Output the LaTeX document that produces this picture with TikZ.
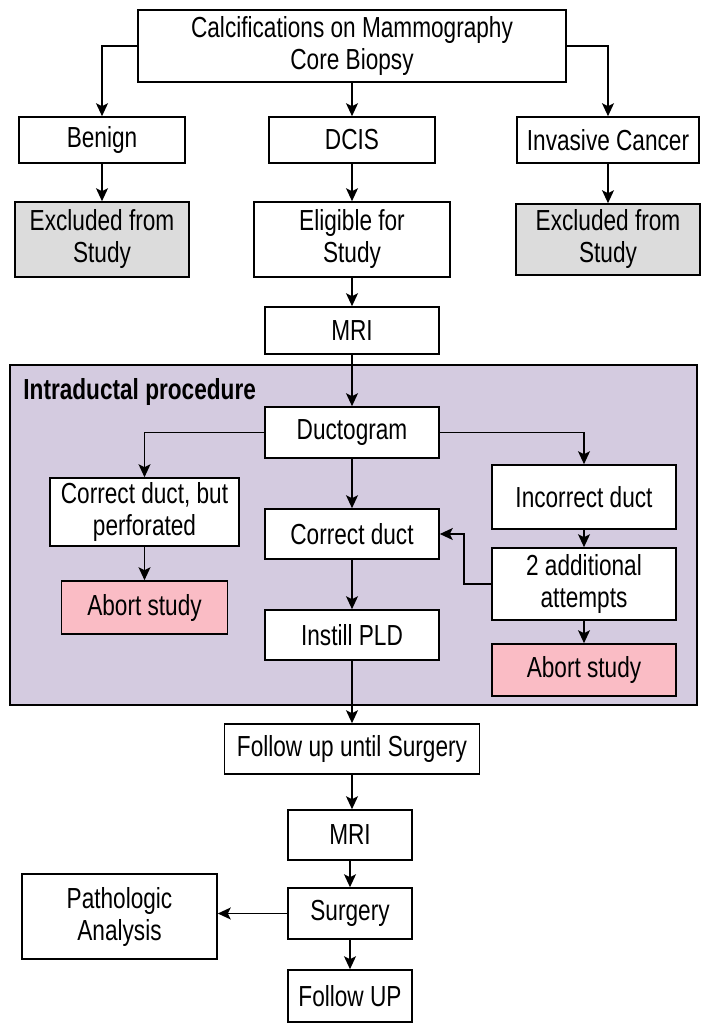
\documentclass[tikz,border=0pt]{standalone}
\usepackage{fontspec}
\setmainfont{Liberation Sans}[FakeStretch=0.78]
\usepackage{tikz}
\usetikzlibrary{arrows.meta,positioning}

\definecolor{exclgray}{RGB}{220,220,220}
\definecolor{procpurple}{RGB}{212,203,224}
\definecolor{abortpink}{RGB}{250,188,197}

\begin{document}
\begin{tikzpicture}
			[
				x=0.5pt, y=-0.5pt,
				align=center,
				font=\fontsize{14.5}{16}\selectfont,
				box/.style={draw, line width=0.8pt, fill=white, inner sep=1pt},
				excluded/.style={box, fill=exclgray},
				abort/.style={box, fill=abortpink},
				group/.style={draw, line width=0.9pt, fill=procpurple, inner sep=0pt},
				arrow/.style={-{Stealth[length=6.5pt,width=6pt,inset=1.5pt]}, line width=0.8pt}
			]
			\useasboundingbox (0,0) rectangle (707,1032);

			% intraductal group
			\node[group, minimum width=343.5pt, minimum height=170pt] (intra) at (353.5,535) {};
			\node[draw=none, fill=none, anchor=west, inner sep=0pt, font=\fontsize{14.5}{16}\selectfont\bfseries] (intralabel) at (23,392) {Intraductal procedure};

			% boxes
			\node[box, minimum width=214pt, minimum height=36pt] (calc) at (352,46) {Calcifications on Mammography\\Core Biopsy};
			\node[box, minimum width=83pt, minimum height=23pt] (benign) at (102,140) {Benign};
			\node[box, minimum width=83pt, minimum height=23pt] (dcis) at (352,140) {DCIS};
			\node[box, minimum width=91pt, minimum height=23pt] (invasive) at (608,140) {Invasive Cancer};
			\node[excluded, minimum width=87pt, minimum height=37.5pt] (exclA) at (102,239.5) {Excluded from\\Study};
			\node[box, minimum width=98pt, minimum height=37.5pt] (eligible) at (352,239.5) {Eligible for\\Study};
			\node[excluded, minimum width=92pt, minimum height=35.5pt] (exclB) at (608,239.5) {Excluded from\\Study};
			\node[box, minimum width=87pt, minimum height=23.5pt] (mriA) at (352,330.5) {MRI};

			\node[box, minimum width=87pt, minimum height=25.5pt] (ducto) at (352,432.5) {Ductogram};
			\node[box, minimum width=94.5pt, minimum height=34pt] (perf) at (144.5,512) {Correct duct, but\\perforated};
			\node[abort, minimum width=83pt, minimum height=26.5pt] (abortA) at (144.5,607.5) {Abort study};
			\node[box, minimum width=87pt, minimum height=25pt] (correct) at (352,534) {Correct duct};
			\node[box, minimum width=87pt, minimum height=25pt] (instill) at (352,635) {Instill PLD};
			\node[box, minimum width=92pt, minimum height=32pt] (incorrect) at (584,497) {Incorrect duct};
			\node[box, minimum width=92pt, minimum height=36pt] (attempts) at (584,584) {2 additional\\attempts};
			\node[abort, minimum width=92pt, minimum height=26pt] (abortB) at (584,670) {Abort study};

			\node[box, minimum width=127.5pt, minimum height=25pt] (follow) at (352,749) {Follow up until Surgery};
			\node[box, minimum width=62pt, minimum height=25pt] (mriB) at (350,835) {MRI};
			\node[box, minimum width=62pt, minimum height=25.5pt] (surgery) at (350,913.5) {Surgery};
			\node[box, minimum width=62pt, minimum height=26pt] (followup) at (350,996) {Follow UP};
			\node[box, minimum width=97.5pt, minimum height=42.5pt] (patho) at (119.5,916.5) {Pathologic\\Analysis};

			% straight paths
			\foreach \from/\to in {calc/dcis,benign/exclA,dcis/eligible,invasive/exclB,eligible/mriA,mriA/ducto,ducto/correct,correct/instill,perf/abortA,incorrect/attempts,attempts/abortB}
			\draw[arrow] (\from) -- (\to);
			\foreach \from/\to in {instill/follow,follow/mriB,mriB/surgery,surgery/followup}
			\draw[arrow] (\from.south) -- (\from.south |- \to.north);

			% branching paths
			\draw[arrow] (calc.west) -| (benign);
			\draw[arrow] (calc.east) -| (invasive);
			\draw[arrow] (ducto.west) -| (perf);
			\draw[arrow] (ducto.east) -| (incorrect);
			\draw[arrow] (attempts.west) -- ++(-27,0) |- (correct.east);
			\draw[arrow] (surgery.west) -- (surgery.west -| patho.east);

		\end{tikzpicture}
\end{document}
